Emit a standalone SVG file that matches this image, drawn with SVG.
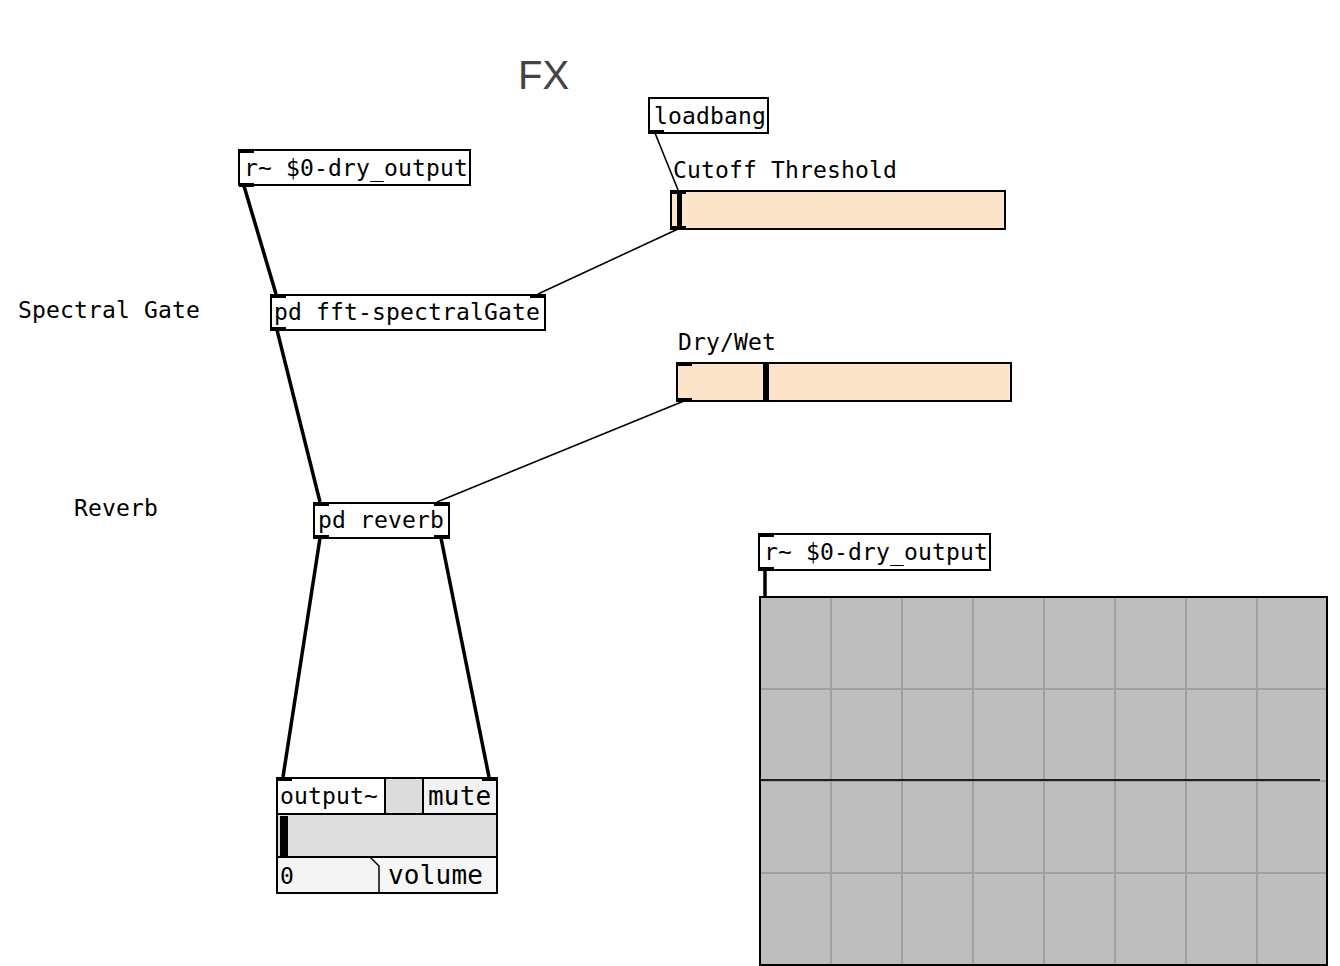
<svg xmlns="http://www.w3.org/2000/svg" width="1340" height="966" viewBox="0 0 1340 966">
<style>
text{font-family:"DejaVu Sans Mono","Liberation Mono",monospace;font-size:23px;fill:#000;letter-spacing:0.15px}
.box{fill:#fff;stroke:#000;stroke-width:2}
.io{fill:#000}
.sl{fill:#fce4ca;stroke:#000;stroke-width:2}
.sig{stroke:#000;stroke-width:3.5;fill:none}
.ctl{stroke:#000;stroke-width:1.6;fill:none}
.grid{stroke:#a0a0a0;stroke-width:2}
.title{font-family:"Liberation Sans","DejaVu Sans",sans-serif;font-size:40px;fill:#444;letter-spacing:0}
.big{font-size:26px;letter-spacing:0.2px}
</style>
<rect width="1340" height="966" fill="#fff"/>
<text class="title" x="518" y="89">FX</text>
<g id="connectors">
<line class="sig" x1="244" y1="186" x2="276" y2="294"/>
<line class="ctl" x1="678" y1="229" x2="538" y2="294"/>
<line class="ctl" x1="655" y1="133" x2="678" y2="190"/>
<line class="sig" x1="277" y1="330" x2="320" y2="502"/>
<line class="ctl" x1="684" y1="401" x2="437" y2="502"/>
<line class="sig" x1="320" y1="538" x2="283" y2="777"/>
<line class="sig" x1="441" y1="538" x2="489" y2="777"/>
<line class="sig" x1="765" y1="570" x2="765" y2="597"/>
</g>
<g id="r1">
<rect class="box" x="239" y="150" width="231" height="35"/>
<rect class="io" x="239" y="149" width="15" height="4"/>
<rect class="io" x="239" y="183" width="15" height="4"/>
<text x="244" y="176">r~ $0-dry_output</text>
</g>
<g id="loadbang">
<rect class="box" x="649" y="98" width="119" height="35"/>
<rect class="io" x="649" y="130" width="15" height="4"/>
<text x="654" y="124">loadbang</text>
</g>
<g id="cutoff">
<text x="673" y="178">Cutoff Threshold</text>
<rect class="sl" x="671" y="191" width="334" height="38"/>
<rect class="io" x="671" y="190" width="15" height="4"/>
<rect class="io" x="671" y="226" width="15" height="4"/>
<rect class="io" x="677" y="191" width="5" height="38"/>
</g>
<g id="spectral-label"><text x="18" y="318">Spectral Gate</text></g>
<g id="pdfft">
<rect class="box" x="271" y="295" width="274" height="35"/>
<rect class="io" x="271" y="294" width="15" height="4"/>
<rect class="io" x="530" y="294" width="15" height="4"/>
<rect class="io" x="271" y="327" width="15" height="4"/>
<text x="274" y="320">pd fft-spectralGate</text>
</g>
<g id="drywet">
<text x="678" y="350">Dry/Wet</text>
<rect class="sl" x="677" y="363" width="334" height="38"/>
<rect class="io" x="677" y="362" width="15" height="4"/>
<rect class="io" x="677" y="398" width="15" height="4"/>
<rect class="io" x="763" y="363" width="6" height="38"/>
</g>
<g id="reverb-label"><text x="74" y="516">Reverb</text></g>
<g id="pdreverb">
<rect class="box" x="314" y="503" width="135" height="35"/>
<rect class="io" x="314" y="502" width="15" height="4"/>
<rect class="io" x="434" y="502" width="15" height="4"/>
<rect class="io" x="314" y="535" width="15" height="4"/>
<rect class="io" x="434" y="535" width="15" height="4"/>
<text x="318" y="528">pd reverb</text>
</g>
<g id="output">
<rect x="277" y="778" width="220" height="115" fill="#fff" stroke="#000" stroke-width="2"/>
<rect x="386" y="779" width="37" height="35" fill="#dcdcdc"/>
<rect x="424" y="779" width="72" height="35" fill="#f2f2f2"/>
<rect x="278" y="815" width="218" height="42" fill="#dedede"/>
<rect x="278" y="858" width="100" height="34" fill="#f4f4f4"/>
<rect x="380" y="858" width="116" height="34" fill="#f6f6f6"/>
<line x1="385" y1="778" x2="385" y2="814" stroke="#000" stroke-width="2"/>
<line x1="423" y1="778" x2="423" y2="814" stroke="#000" stroke-width="2"/>
<line x1="277" y1="814" x2="497" y2="814" stroke="#000" stroke-width="2"/>
<line x1="277" y1="857" x2="497" y2="857" stroke="#000" stroke-width="2"/>
<polyline points="370,857 379,866 379,893" fill="none" stroke="#000" stroke-width="1.5"/>
<rect class="io" x="280" y="816" width="8" height="40"/>
<rect class="io" x="277" y="777" width="15" height="4"/>
<rect class="io" x="482" y="777" width="15" height="4"/>
<text x="280" y="804">output~</text>
<text class="big" x="428" y="805">mute</text>
<text x="280" y="884">0</text>
<text class="big" x="388" y="884">volume</text>
</g>
<g id="r2">
<rect class="box" x="759" y="534" width="231" height="36"/>
<rect class="io" x="759" y="533" width="15" height="4"/>
<rect class="io" x="759" y="567" width="15" height="4"/>
<text x="764" y="560">r~ $0-dry_output</text>
</g>
<g id="scope">
<rect x="760" y="597" width="567" height="368" fill="#bebebe"/>
<g class="grid">
<line x1="831" y1="597" x2="831" y2="965"/>
<line x1="902" y1="597" x2="902" y2="965"/>
<line x1="973" y1="597" x2="973" y2="965"/>
<line x1="1044" y1="597" x2="1044" y2="965"/>
<line x1="1115" y1="597" x2="1115" y2="965"/>
<line x1="1186" y1="597" x2="1186" y2="965"/>
<line x1="1257" y1="597" x2="1257" y2="965"/>
<line x1="760" y1="689" x2="1327" y2="689"/>
<line x1="760" y1="781" x2="1327" y2="781"/>
<line x1="760" y1="873" x2="1327" y2="873"/>
</g>
<line x1="760" y1="780" x2="1320" y2="780" stroke="#1e1e1e" stroke-width="2"/>
<rect x="760" y="597" width="567" height="368" fill="none" stroke="#000" stroke-width="2"/>
</g>
</svg>
